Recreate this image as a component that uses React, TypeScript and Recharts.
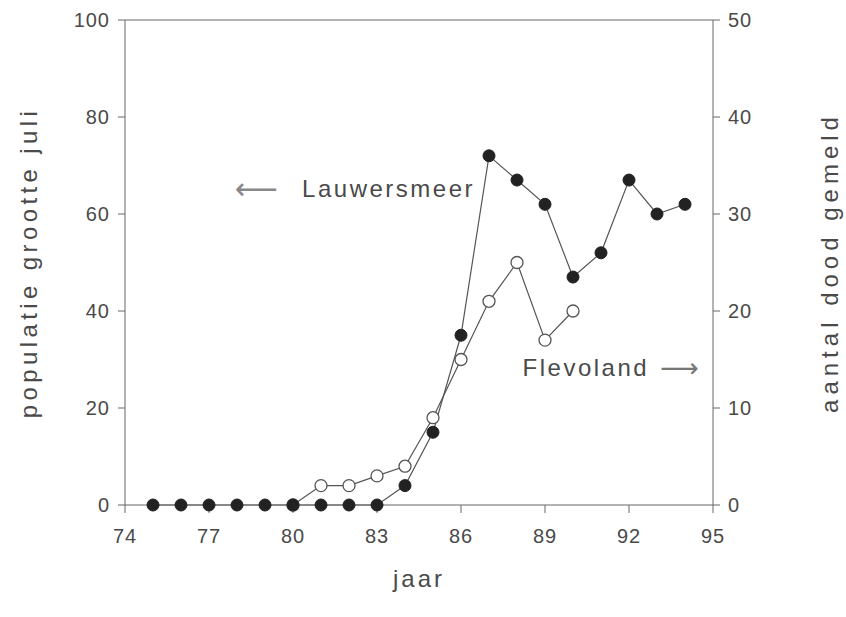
import { ComposedChart, Line, XAxis, YAxis, ReferenceLine, ReferenceDot, Label } from 'recharts';

// Years on the x-axis
const years = [75, 76, 77, 78, 79, 80, 81, 82, 83, 84, 85, 86, 87, 88, 89, 90, 91, 92, 93, 94];
// Lauwersmeer: population size in July (left axis)
const lauwersmeer = [0, 0, 0, 0, 0, 0, 0, 0, 0, 4, 15, 35, 72, 67, 62, 47, 52, 67, 60, 62];
// Flevoland: number reported dead (right axis), only from 1980 to 1990
const flevoland = [null, null, null, null, null, 0, 2, 2, 3, 4, 9, 15, 21, 25, 17, 20, null, null, null, null];

const xTicks = [74, 77, 80, 83, 86, 89, 92, 95];
const leftTicks = [0, 20, 40, 60, 80, 100];
const rightTicks = [0, 10, 20, 30, 40, 50];

const data = years.map((year, i) => ({
  year,
  lauwersmeer: lauwersmeer[i],
  flevoland: flevoland[i],
}));

const FONT = '"Liberation Sans", Arial, sans-serif';
const TEXT = '#4a4a4a';
const AXIS = '#666';

const tickStyle = { fontSize: 20, fill: TEXT, fontFamily: FONT, letterSpacing: 1 };

function VerticalTitle({ viewBox, text, dx, spacing }: any) {
  const { x, y, height } = viewBox;
  const cx = x + dx;
  const cy = y + height / 2;
  return (
    <text
      x={cx}
      y={cy}
      transform={`rotate(-90, ${cx}, ${cy})`}
      textAnchor="middle"
      dominantBaseline="central"
      fontFamily={FONT}
      fontSize={24}
      letterSpacing={spacing}
      fill={TEXT}
    >
      {text}
    </text>
  );
}

export default function App() {
  return (
    <div style={{ position: 'absolute', left: 0, top: 0, background: '#fff' }}>
      <ComposedChart width={846} height={617} data={data} margin={{ top: 20, right: 0, bottom: 0, left: 0 }}>
        <XAxis
          dataKey="year"
          type="number"
          domain={[74, 95]}
          ticks={xTicks}
          tick={tickStyle}
          tickSize={8}
          tickMargin={16}
          stroke={AXIS}
          height={112}
          allowDataOverflow
        >
          <Label
            content={({ viewBox }: any) => (
              <text
                x={viewBox.x + viewBox.width / 2}
                y={viewBox.y + 73}
                textAnchor="middle"
                dominantBaseline="central"
                fontFamily={FONT}
                fontSize={24}
                letterSpacing={3}
                fill={TEXT}
              >
                jaar
              </text>
            )}
          />
        </XAxis>
        <YAxis
          yAxisId="left"
          domain={[0, 100]}
          ticks={leftTicks}
          tick={tickStyle}
          tickSize={7}
          tickMargin={8}
          stroke={AXIS}
          width={125}
        >
          <Label content={(props: any) => <VerticalTitle {...props} text="populatie grootte juli" dx={28} spacing={4.4} />} />
        </YAxis>
        <YAxis
          yAxisId="right"
          orientation="right"
          domain={[0, 50]}
          ticks={rightTicks}
          tick={tickStyle}
          tickSize={7}
          tickMargin={8}
          stroke={AXIS}
          width={133}
        >
          <Label content={(props: any) => <VerticalTitle {...props} text="aantal dood gemeld" dx={116} spacing={5} />} />
        </YAxis>
        <ReferenceLine yAxisId="left" y={100} stroke={AXIS} />

        <Line
          yAxisId="right"
          dataKey="flevoland"
          stroke="#555"
          strokeWidth={1.2}
          dot={{ r: 6, fill: '#fff', stroke: '#555', strokeWidth: 1.3 }}
          isAnimationActive={false}
          connectNulls={false}
        />
        <Line
          yAxisId="left"
          dataKey="lauwersmeer"
          stroke="#555"
          strokeWidth={1.2}
          dot={{ r: 6, fill: '#222', stroke: '#222', strokeWidth: 1 }}
          isAnimationActive={false}
        />

        <ReferenceDot
          yAxisId="left"
          x={86.5}
          y={65.4}
          r={0}
          label={({ viewBox }: any) => (
            <text x={viewBox.x} y={viewBox.y} textAnchor="end" dominantBaseline="central" fontFamily={FONT} fontSize={24} letterSpacing={2.5} fill={TEXT}>
              <tspan letterSpacing={0} fontSize={30} fill="#888" fontFamily='"DejaVu Sans", sans-serif'>⟵</tspan>
              <tspan dx={24} fontSize={24}>Lauwersmeer</tspan>
            </text>
          )}
        />
        <ReferenceDot
          yAxisId="right"
          x={88.2}
          y={14.2}
          r={0}
          label={({ viewBox }: any) => (
            <text x={viewBox.x} y={viewBox.y} textAnchor="start" dominantBaseline="central" fontFamily={FONT} fontSize={24} letterSpacing={2.5} fill={TEXT}>
              <tspan>Flevoland</tspan>
              <tspan dx={11} letterSpacing={0} fontSize={27} fill="#777" fontFamily='"DejaVu Sans", sans-serif'>⟶</tspan>
            </text>
          )}
        />
      </ComposedChart>
    </div>
  );
}
